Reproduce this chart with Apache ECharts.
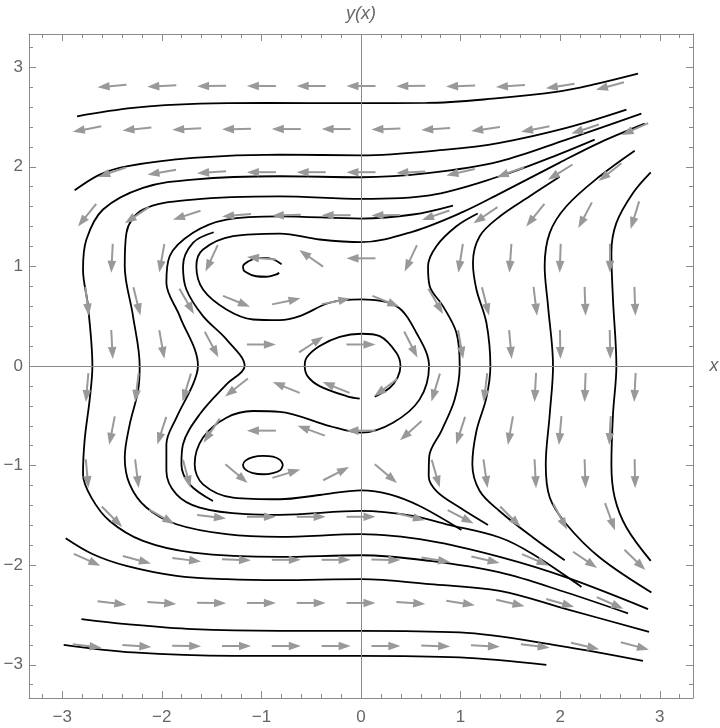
<!DOCTYPE html>
<html><head><meta charset="utf-8">
<script src="https://cdn.jsdelivr.net/npm/echarts@6/dist/echarts.min.js"></script>
<style>html,body{margin:0;padding:0;background:#fff}#c{width:720px;height:728px}</style>
</head><body><div id="c"></div>
<script>
// ---------- tick labels ----------
const majorTicks = [-3, -2, -1, 0, 1, 2, 3];
const minorTicks = [-3.2,-2.8,-2.6,-2.4,-2.2,-1.8,-1.6,-1.4,-1.2,-0.8,-0.6,-0.4,-0.2,0.2,0.4,0.6,0.8,1.2,1.4,1.6,1.8,2.2,2.4,2.6,2.8,3.2];

// ---------- stream lines ----------
const curveT1 = [[-2.851,2.507],[-2.289,2.591],[-1.619,2.634],[-0.950,2.641],[-0.013,2.639],[0.657,2.641],[1.325,2.684],[1.995,2.757],[2.329,2.824],[2.781,2.935]];
const curveT2 = [[-2.875,1.764],[-2.623,1.922],[-2.355,2.005],[-1.687,2.089],[-0.816,2.122],[0.004,2.115],[0.857,2.172],[1.393,2.240],[2.062,2.390],[2.665,2.574]];
const curveT3 = [[2.815,2.534],[2.062,2.273],[1.393,2.055],[0.690,1.939],[0.004,1.895],[-0.816,1.905],[-1.687,1.872],[-2.189,1.788],[-2.590,1.571],[-2.757,1.270],[-2.791,0.969],[-2.741,0.601],[-2.697,0.0],[-2.724,-0.335],[-2.774,-0.736],[-2.791,-1.087],[-2.707,-1.321],[-2.523,-1.556],[-2.189,-1.756],[-1.687,-1.873],[-0.816,-1.917],[0.004,-1.900],[0.690,-1.957],[1.393,-2.073],[2.062,-2.274],[2.681,-2.484]];
const curveT4 = [[2.346,2.273],[1.895,2.089],[1.393,1.905],[0.690,1.714],[0.004,1.678],[-0.816,1.704],[-1.687,1.671],[-2.189,1.571],[-2.355,1.337],[-2.372,1.002],[-2.289,0.501],[-2.222,0.0],[-2.239,-0.252],[-2.322,-0.586],[-2.372,-0.920],[-2.322,-1.188],[-2.155,-1.421],[-1.853,-1.589],[-1.351,-1.689],[-0.816,-1.716],[0.004,-1.689],[0.690,-1.756],[1.393,-1.917],[2.062,-2.123],[2.882,-2.441]];
const curveT5 = [[0.924,1.611],[0.522,1.521],[0.004,1.480],[-0.816,1.503],[-1.351,1.470],[-1.687,1.337],[-1.921,1.102],[-1.954,0.835],[-1.820,0.501],[-1.637,0.0],[-1.687,-0.185],[-1.853,-0.519],[-1.954,-0.786],[-1.954,-1.054],[-1.853,-1.288],[-1.619,-1.421],[-1.151,-1.488],[-0.816,-1.495],[0.004,-1.455],[0.522,-1.505],[0.857,-1.589],[1.393,-1.722],[1.727,-1.890],[2.213,-2.218]];
const curveT6 = [[-1.479,1.343],[-1.687,1.237],[-1.787,1.002],[-1.753,0.768],[-1.586,0.501],[-1.351,0.267],[-1.168,0.0],[-1.351,-0.185],[-1.619,-0.485],[-1.787,-0.786],[-1.803,-0.987],[-1.720,-1.188],[-1.486,-1.355]];
const curveSep = [[2.848,2.433],[2.397,2.243],[1.995,2.042],[1.393,1.731],[1.024,1.547],[0.522,1.350],[0.004,1.243],[-0.415,1.270],[-0.816,1.330],[-1.285,1.303],[-1.586,1.169],[-1.653,1.002],[-1.586,0.768],[-1.351,0.568],[-1.084,0.467],[-0.816,0.460],[-0.615,0.501],[-0.314,0.635],[0.004,0.668],[0.355,0.601],[0.556,0.334],[0.683,0.0],[0.589,-0.335],[0.321,-0.569],[0.004,-0.669],[-0.314,-0.603],[-0.816,-0.460],[-1.084,-0.452],[-1.351,-0.519],[-1.586,-0.719],[-1.670,-0.987],[-1.586,-1.188],[-1.285,-1.321],[-0.816,-1.338],[-0.415,-1.295],[0.004,-1.248],[0.288,-1.288],[0.589,-1.405],[1.008,-1.646]];
const curveLoop0 = [[0.138,-0.308],[0.289,-0.218],[0.368,-0.114],[0.396,0.0],[0.355,0.133],[0.188,0.300],[0.004,0.324],[-0.214,0.292],[-0.415,0.200],[-0.545,0.086],[-0.565,0.0],[-0.535,-0.104],[-0.415,-0.202],[-0.147,-0.302],[-0.013,-0.328]];
const curveLoopTop = [[-0.797,1.022],[-0.885,1.072],[-0.985,1.085],[-1.085,1.072],[-1.173,1.022],[-1.185,0.990],[-1.158,0.943],[-1.053,0.901],[-0.950,0.896],[-0.856,0.917],[-0.821,0.935]];
const curveLoopBot = [[-0.784,-0.995],[-0.810,-0.945],[-0.885,-0.910],[-0.985,-0.903],[-1.085,-0.915],[-1.160,-0.950],[-1.185,-0.995],[-1.160,-1.040],[-1.085,-1.075],[-0.985,-1.087],[-0.885,-1.075],[-0.810,-1.045],[-0.784,-0.995]];
const curveR1 = [[1.172,1.531],[0.958,1.403],[0.757,1.203],[0.673,1.002],[0.690,0.801],[0.823,0.601],[0.958,0.334],[0.991,0.0],[0.941,-0.335],[0.810,-0.646],[0.685,-0.907],[0.680,-1.107],[0.760,-1.258],[0.991,-1.421],[1.275,-1.596]];
const curveR2 = [[1.995,1.899],[1.694,1.704],[1.393,1.501],[1.192,1.303],[1.124,1.036],[1.159,0.768],[1.259,0.434],[1.299,0.0],[1.259,-0.318],[1.159,-0.653],[1.118,-0.987],[1.192,-1.255],[1.393,-1.458],[1.727,-1.722],[2.045,-1.950]];
const curveR3 = [[2.748,2.162],[2.397,1.905],[2.062,1.604],[1.895,1.337],[1.844,1.002],[1.878,0.601],[1.928,0.0],[1.895,-0.485],[1.855,-0.987],[1.895,-1.321],[2.062,-1.589],[2.397,-1.923],[2.916,-2.274]];
const curveR4 = [[2.909,1.945],[2.731,1.738],[2.564,1.437],[2.514,1.136],[2.530,0.668],[2.564,0.0],[2.530,-0.485],[2.514,-0.987],[2.547,-1.321],[2.665,-1.622],[2.909,-1.957]];
const curveB1 = [[-2.965,-1.729],[-2.691,-1.890],[-2.355,-2.007],[-1.853,-2.107],[-1.351,-2.140],[-0.816,-2.150],[0.004,-2.140],[0.690,-2.190],[1.393,-2.258],[2.062,-2.441],[2.892,-2.669]];
const curveB2 = [[-2.807,-2.542],[-2.355,-2.592],[-1.687,-2.642],[-0.816,-2.659],[0.004,-2.659],[0.991,-2.675],[1.995,-2.809],[2.831,-2.960]];
const curveB3 = [[-2.985,-2.799],[-2.289,-2.876],[-1.285,-2.910],[-0.013,-2.910],[0.991,-2.926],[1.861,-3.000]];
const curves = [curveT1,curveT2,curveT3,curveT4,curveT5,curveT6,curveSep,curveLoop0,curveLoopTop,curveLoopBot,curveR1,curveR2,curveR3,curveR4,curveB1,curveB2,curveB3];

// ---------- direction arrows: rows, columns, angles (deg) ----------
const arrowRowY = [2.811, 2.379, 1.946, 1.514, 1.081, 0.649, 0.216, -0.216, -0.649, -1.081, -1.514, -1.946, -2.379, -2.811];
const arrowColsA = [-2.5,-2,-1.5,-1,-0.5,0,0.5,1,1.5,2,2.5];
const arrowColsB = [-2.75,-2.25,-1.75,-1.25,-0.75,-0.25,0.25,0.75,1.25,1.75,2.25,2.75];
const arrowAngles = [
  [185,183,181,180,180,180,181,182,184,189,195],
  [191,186,183,181,180,180,182,184,188,191,198,204],
  [199,190,184,180,180,180,183,193,200,212,218],
  [231,214,198,185,182,180,181,199,214,231,242,253],
  [267,260,245,175,145,180,245,261,266,268,270],
  [277,284,300,338,12,11,338,300,284,277,272,272],
  [273,280,298,0,33,0,297,280,275,271,271],
  [265,263,253,218,158,158,217,253,263,267,268,267],
  [259,252,236,180,160,180,222,252,260,265,267],
  [275,277,285,320,17,27,320,286,278,273,272,271],
  [315,330,353,0,0,0,346,333,315,298,290],
  [336,345,353,358,0,0,359,351,347,337,326,316],
  [353,356,359,0,0,0,356,351,347,344,336],
  [353,356,359,0,0,0,0,358,357,353,347,345]
];

const FRAME = '#8a8a8a', LABEL = '#666666', ARROW = '#999999';
const FONT = 'Liberation Sans, Arial, sans-serif';

const arrowData = [];
arrowRowY.forEach((y, i) => {
  const cols = (i % 2 === 0) ? arrowColsA : arrowColsB;
  arrowAngles[i].forEach((a, j) => arrowData.push([cols[j], y, a]));
});

const R = 10 / 3;
function fmt(v) { return String(v).replace('-', '\u2212'); }
function axis(kind, pos, ticks, len, showLabel, showLine) {
  return {
    type: 'value', position: pos, min: -R, max: R, gridIndex: 0,
    axisLine: { show: showLine, onZero: false, lineStyle: { color: FRAME, width: 1 } },
    axisTick: { show: true, inside: true, length: len, customValues: ticks, lineStyle: { color: FRAME, width: 1 } },
    axisLabel: { show: showLabel, customValues: ticks, formatter: fmt, color: LABEL, fontSize: 17, fontFamily: FONT,
                 margin: kind === 'x' ? 11 : 6 },
    splitLine: { show: false }, minorTick: { show: false }
  };
}

const series = curves.map((c, i) => ({
  type: 'line', data: c, xAxisIndex: 0, yAxisIndex: 0, smooth: 0.35, symbol: 'none', showSymbol: false,
  lineStyle: { color: '#000', width: 1.8 }, z: 3, silent: true,
  markLine: i === 0 ? { silent: true, symbol: ['none', 'none'], label: { show: false },
    lineStyle: { color: FRAME, width: 1, type: 'solid' }, data: [{ xAxis: 0 }, { yAxis: 0 }] } : undefined
}));

series.push({
  type: 'custom', coordinateSystem: 'cartesian2d', xAxisIndex: 0, yAxisIndex: 0, data: arrowData, z: 5, silent: true,
  encode: { x: 0, y: 1 },
  renderItem: function (params, api) {
    const p = api.coord([api.value(0), api.value(1)]);
    const a = api.value(2) * Math.PI / 180;
    const dx = Math.cos(a), dy = -Math.sin(a);
    const L = 29, H = 12, W = 4.3;
    const tail = [p[0] - dx * L / 2, p[1] - dy * L / 2];
    const head = [p[0] + dx * L / 2, p[1] + dy * L / 2];
    const base = [head[0] - dx * H, head[1] - dy * H];
    const nx = -dy, ny = dx;
    return { type: 'group', children: [
      { type: 'line', shape: { x1: tail[0], y1: tail[1], x2: base[0] + dx * 2, y2: base[1] + dy * 2 },
        style: { stroke: ARROW, lineWidth: 2 } },
      { type: 'polygon', shape: { points: [head, [base[0] + nx * W, base[1] + ny * W], [base[0] - nx * W, base[1] - ny * W]] },
        style: { fill: ARROW } }
    ] };
  }
});

const chart = echarts.init(document.getElementById('c'), null, { renderer: 'canvas' });
chart.setOption({
  animation: false,
  backgroundColor: '#fff',
  grid: { left: 29, right: 27, top: 34, bottom: 30, containLabel: false },
  xAxis: [
    axis('x', 'bottom', majorTicks, 7, true, true),
    axis('x', 'bottom', minorTicks, 4, false, false),
    axis('x', 'top', majorTicks, 7, false, true),
    axis('x', 'top', minorTicks, 4, false, false)
  ],
  yAxis: [
    axis('y', 'left', majorTicks, 7, true, true),
    axis('y', 'left', minorTicks, 4, false, false),
    axis('y', 'right', majorTicks, 7, false, true),
    axis('y', 'right', minorTicks, 4, false, false)
  ],
  graphic: [
    { type: 'text', x: 361, y: 14, style: { text: 'y(x)', fill: LABEL, font: 'italic 18px ' + FONT, align: 'center', verticalAlign: 'middle' } },
    { type: 'text', x: 714, y: 366, style: { text: 'x', fill: LABEL, font: 'italic 18px ' + FONT, align: 'center', verticalAlign: 'middle' } }
  ],
  series: series
});
</script></body></html>
